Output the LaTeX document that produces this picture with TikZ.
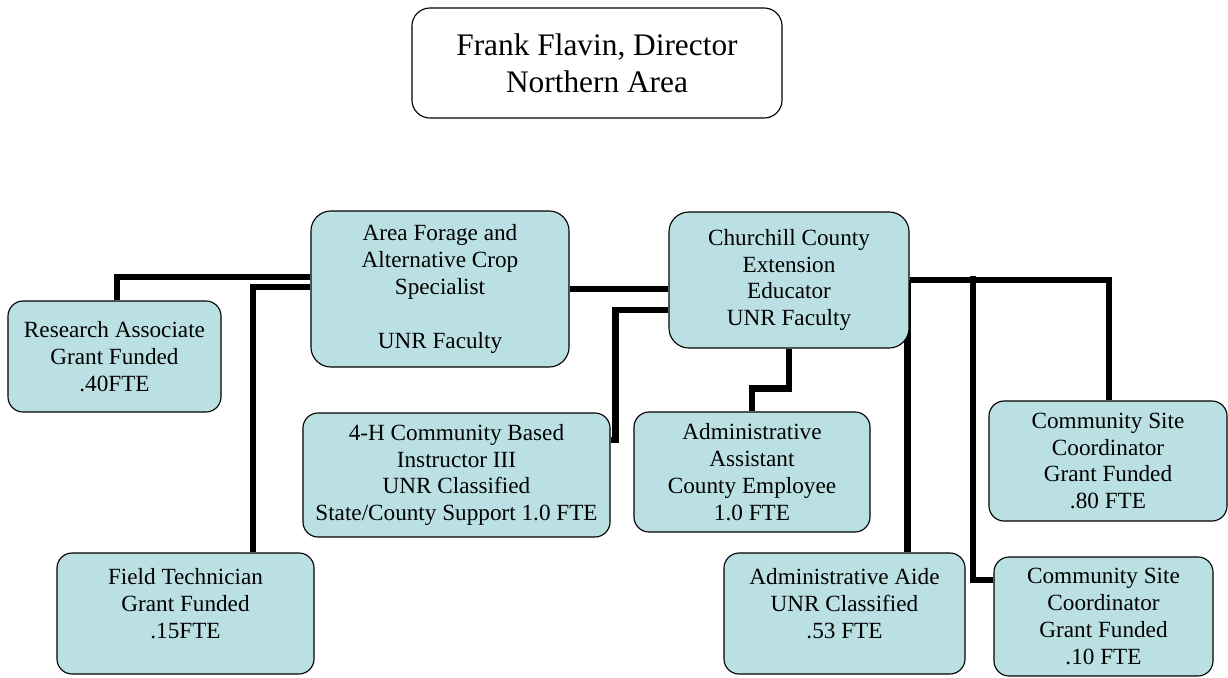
\documentclass[tikz,border=0pt]{standalone}
\usepackage{fontspec}
\setmainfont{Liberation Serif}
\usepackage{tikz}
\usetikzlibrary{positioning,backgrounds}
\definecolor{boxblue}{RGB}{187,224,227}

\begin{document}
\begin{tikzpicture}[x=0.025cm,y=-0.025cm,
        box/.style={draw, line width=0.8pt, rounded corners=0.38cm, fill=boxblue,
            align=center, inner sep=0pt, font=\fontsize{16.5}{19.1}\selectfont},
        conn/.style={line width=4.7pt}]
        \useasboundingbox (0,0) rectangle (1228,677);
        % top box
        \node[box, fill=white, rounded corners=0.45cm, minimum width=9.25cm, minimum height=2.75cm,
            font=\fontsize{22.3}{26.2}\selectfont] (dir) at (597,63) {Frank Flavin, Director\\Northern Area};
        % two faculty boxes
        \node[box, rounded corners=0.5cm, minimum width=6.45cm, minimum height=3.9cm] (af) at (440,289)
            {Area Forage and\\Alternative Crop\\Specialist\\[19.1pt]UNR Faculty};
        \node[box, rounded corners=0.5cm, minimum width=6cm, minimum height=3.4cm] (ch) at (789,280)
            {Churchill County\\Extension\\Educator\\UNR Faculty};
        % staff
        \node[box, minimum width=5.325cm, minimum height=2.775cm] (ra) at (114.5,356.5)
            {Research Associate\\Grant Funded\\.40FTE};
        \node[box, minimum width=6.425cm, minimum height=3.025cm] (ft) at (185.5,613.5)
            {Field Technician\\Grant Funded\\.15FTE\\[-5pt]\mbox{}};
        \node[box, minimum width=7.675cm, minimum height=3.1cm] (fh) at (456.5,475)
            {4-H Community Based\\Instructor III\\UNR Classified\\State/County Support 1.0 FTE};
        \node[box, minimum width=5.9cm, minimum height=3cm] (aa) at (752,472)
            {Administrative\\Assistant\\County Employee\\1.0 FTE};
        \node[box, minimum width=6.025cm, minimum height=3.025cm] (ai) at (844.5,613.5)
            {Administrative Aide\\UNR Classified\\.53 FTE\\[-5pt]\mbox{}};
        \node[box, minimum width=5.95cm, minimum height=3cm] (cs80) at (1108,461)
            {Community Site\\Coordinator\\Grant Funded\\.80 FTE};
        \node[box, minimum width=5.475cm, minimum height=2.975cm] (cs10) at (1103.5,616.5)
            {Community Site\\Coordinator\\Grant Funded\\.10 FTE};
        \coordinate (csj) at (973,276);

        \begin{scope}[on background layer]
        \draw[conn] ([yshift=0.3cm]af.west) -| ([xshift=0.06cm]ra.north);
        \draw[conn] ([yshift=0.05cm]af.west) -| ([xshift=1.69cm]ft.north);
        \draw[conn] (af.east) -- (af.east -| ch.west);
        \draw[conn] ([yshift=-0.75cm]ch.west) -| ([xshift=0.125cm,yshift=0.875cm]fh.east) -- ([yshift=0.875cm]fh.east);
        \draw[conn] (ch.south) -- ++(0,40) -| (aa.north);
        \draw[conn] ([xshift=-0.05cm]ch.east) -- ([xshift=-0.05cm]ch.east |- ai.north);
        \draw[conn] (ch.east) -| ([xshift=0.025cm]cs80.north);
        \draw[conn] (csj) |- ([yshift=0.9125cm]cs10.west);
        \end{scope}
\end{tikzpicture}
\end{document}
